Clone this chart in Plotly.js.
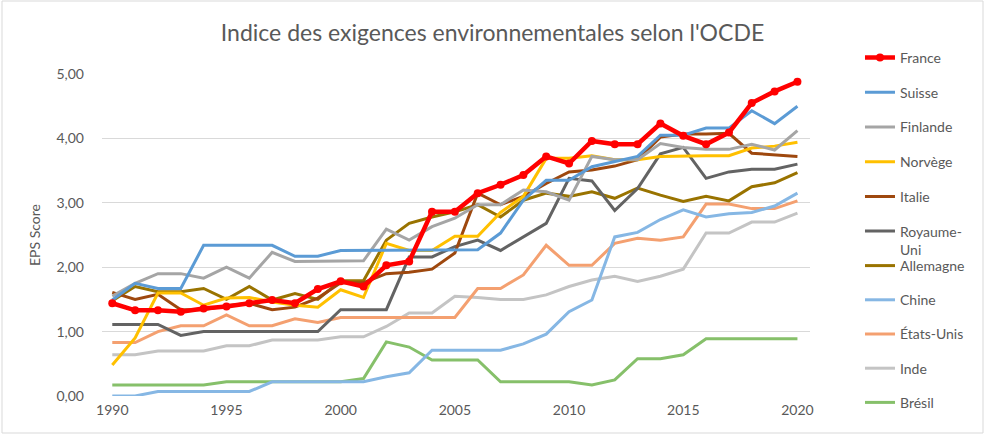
<!DOCTYPE html>
<html>
<head>
<meta charset="utf-8">
<script src="https://cdn.plot.ly/plotly-3.0.1.min.js"></script>
<style>
html,body{margin:0;padding:0;background:#fff;}
#chart{width:985px;height:437px;}
</style>
</head>
<body>
<div id="chart"></div>
<script>
const years = [1990,1991,1992,1993,1994,1995,1996,1997,1998,1999,2000,2001,2002,2003,2004,2005,2006,2007,2008,2009,2010,2011,2012,2013,2014,2015,2016,2017,2018,2019,2020];
const xTicks = [1990,1995,2000,2005,2010,2015,2020];
const yTicks = [0,1,2,3,4,5];

const france    = [1.44,1.33,1.33,1.31,1.36,1.39,1.44,1.49,1.44,1.66,1.78,1.70,2.03,2.09,2.86,2.86,3.15,3.28,3.43,3.72,3.61,3.96,3.91,3.91,4.23,4.04,3.91,4.09,4.55,4.73,4.88];
const suisse    = [1.49,1.75,1.67,1.67,2.34,2.34,2.34,2.34,2.17,2.17,2.26,2.26,2.26,2.26,2.26,2.27,2.27,2.53,3.04,3.35,3.35,3.56,3.64,3.72,4.05,4.05,4.16,4.16,4.43,4.23,4.50];
const finlande  = [1.55,1.75,1.90,1.90,1.83,2.00,1.83,2.23,2.09,2.09,2.10,2.10,2.59,2.42,2.63,2.76,2.97,2.97,3.20,3.17,3.04,3.72,3.67,3.67,3.92,3.86,3.83,3.83,3.91,3.82,4.12];
const norvege   = [0.48,0.90,1.60,1.60,1.41,1.52,1.53,1.46,1.41,1.38,1.65,1.53,2.37,2.26,2.26,2.48,2.48,2.85,3.10,3.69,3.69,3.73,3.67,3.67,3.72,3.73,3.73,3.73,3.85,3.88,3.94];
const italie    = [1.61,1.50,1.58,1.34,1.34,1.40,1.44,1.34,1.38,1.52,1.76,1.76,1.90,1.92,1.97,2.22,3.15,2.97,3.10,3.30,3.48,3.51,3.57,3.67,4.02,4.07,4.07,4.08,3.77,3.74,3.72];
const royaumeUni= [1.11,1.11,1.11,0.94,1.00,1.00,1.00,1.00,1.00,1.00,1.34,1.34,1.34,2.16,2.16,2.32,2.42,2.26,2.47,2.68,3.38,3.34,2.88,3.22,3.76,3.86,3.38,3.48,3.52,3.52,3.60];
const allemagne = [1.48,1.70,1.62,1.62,1.67,1.50,1.70,1.49,1.59,1.50,1.79,1.79,2.42,2.68,2.78,2.86,2.97,2.78,3.04,3.15,3.10,3.17,3.07,3.23,3.12,3.02,3.10,3.03,3.25,3.31,3.47];
const chine     = [0.00,0.00,0.07,0.07,0.07,0.07,0.07,0.22,0.22,0.22,0.22,0.22,0.30,0.36,0.71,0.71,0.71,0.71,0.81,0.96,1.31,1.49,2.47,2.54,2.74,2.89,2.78,2.83,2.85,2.95,3.15];
const etatsUnis = [0.83,0.83,1.00,1.09,1.09,1.26,1.09,1.09,1.20,1.14,1.22,1.22,1.22,1.22,1.22,1.22,1.67,1.67,1.88,2.34,2.03,2.03,2.37,2.45,2.42,2.47,2.98,2.98,2.91,2.91,3.03];
const inde      = [0.64,0.64,0.70,0.70,0.70,0.78,0.78,0.87,0.87,0.87,0.92,0.92,1.08,1.29,1.29,1.55,1.53,1.50,1.50,1.57,1.70,1.80,1.86,1.78,1.86,1.97,2.53,2.53,2.70,2.70,2.84];
const bresil    = [0.17,0.17,0.17,0.17,0.17,0.22,0.22,0.22,0.22,0.22,0.22,0.27,0.84,0.76,0.56,0.56,0.56,0.22,0.22,0.22,0.22,0.17,0.25,0.58,0.58,0.64,0.89,0.89,0.89,0.89,0.89];

const seriesNames = ["France","Suisse","Finlande","Norvège","Italie","Royaume-<br>Uni","Allemagne","Chine","États-Unis","Inde","Brésil"];
const seriesValues = [france,suisse,finlande,norvege,italie,royaumeUni,allemagne,chine,etatsUnis,inde,bresil];
const seriesColors = ["#FF0000","#5B9BD5","#A5A5A5","#FFC000","#9E480E","#636363","#997300","#86B7E4","#F4A070","#C4C4C4","#86C06A"];

const FONT = "Lato, 'Open Sans', sans-serif";
const TXT = "#595959";

const traces = [];
for (let i = seriesNames.length - 1; i >= 0; i--) {
  const isFrance = i === 0;
  const t = {
    x: years,
    y: seriesValues[i],
    name: seriesNames[i],
    type: "scatter",
    mode: isFrance ? "lines+markers" : "lines",
    line: {color: seriesColors[i], width: isFrance ? 4.5 : 3},
    legend: i < 6 ? "legend" : "legend2",
    legendgroup: "g" + i,
    legendrank: i + 1,
    hoverinfo: "x+y+name"
  };
  if (isFrance) t.marker = {color: seriesColors[i], size: 8};
  traces.push(t);
}

const layout = {
  width: 985,
  height: 437,
  paper_bgcolor: "#fff",
  plot_bgcolor: "#fff",
  separators: ", ",
  margin: {l: 102, r: 175, t: 74, b: 41},
  font: {family: FONT, color: TXT, size: 14},
  title: {
    text: "Indice des exigences environnementales selon l'OCDE",
    font: {family: FONT, size: 23, color: TXT},
    x: 0.5, xref: "container", xanchor: "center",
    y: 1 - 33/437, yref: "container", yanchor: "middle"
  },
  xaxis: {
    range: [1989.55, 2020.55],
    tickvals: xTicks,
    ticktext: xTicks.map(String),
    showgrid: false,
    zeroline: false,
    showline: false,
    ticks: "",
    ticklabelstandoff: 4,
    tickfont: {family: FONT, size: 14, color: TXT}
  },
  yaxis: {
    range: [0, 5],
    tickvals: yTicks,
    tickformat: ".2f",
    gridcolor: "#D9D9D9",
    gridwidth: 1,
    zeroline: false,
    showline: false,
    ticks: "",
    ticklabelstandoff: 17,
    tickfont: {family: FONT, size: 14, color: TXT},
    title: {text: "EPS Score", font: {family: FONT, size: 14, color: TXT}, standoff: 12}
  },
  legend: {
    x: 1.0706, xanchor: "left",
    y: (396 - 42) / 322, yanchor: "top",
    bgcolor: "rgba(0,0,0,0)",
    font: {family: FONT, size: 14, color: TXT},
    tracegroupgap: 13.5,
    valign: "top",
    traceorder: "grouped"
  },
  legend2: {
    x: 1.0706, xanchor: "left",
    y: (396 - 250) / 322, yanchor: "top",
    bgcolor: "rgba(0,0,0,0)",
    font: {family: FONT, size: 14, color: TXT},
    tracegroupgap: 13,
    valign: "top",
    traceorder: "grouped"
  },
  shapes: [{
    type: "rect", xref: "paper", yref: "paper",
    x0: (2 - 102) / 708, x1: (983 - 102) / 708,
    y0: (396 - 433) / 322, y1: (396 - 1) / 322,
    line: {color: "#D9D9D9", width: 1}, fillcolor: "rgba(0,0,0,0)", layer: "below"
  }],
  showlegend: true
};
Plotly.newPlot("chart", traces, layout, {displayModeBar: false, staticPlot: true});
</script>
</body>
</html>
